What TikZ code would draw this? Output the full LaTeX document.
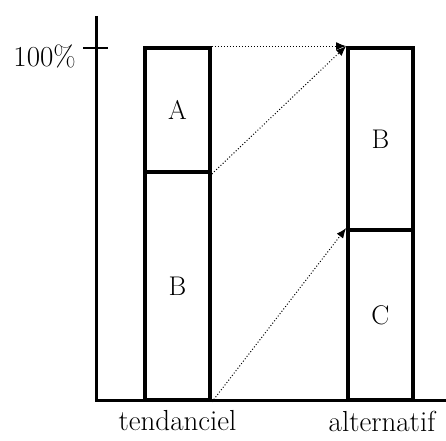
\documentclass[tikz,border=0pt]{standalone}
\usetikzlibrary{arrows.meta}
\begin{document}
\begin{tikzpicture}[x=1pt,y=1pt,
  bar/.style={draw,line width=3.8pt,minimum width=65pt,inner sep=0pt,font=\fontsize{27}{30}\selectfont},
  axis/.style={line width=3pt},
  lab/.style={font=\fontsize{29}{32}\selectfont,inner sep=0pt},
  flow/.style={dotted,line width=1pt,-{Latex[length=10pt,width=8pt]}}]
\useasboundingbox (0,0) rectangle (446,440);
% axes
\coordinate (top) at (96,424);
\coordinate (orig) at (96,40);
\coordinate (xend) at (446,40);
\draw[axis] (top) -- (orig) -- (xend);
\coordinate (t1) at (83,392);
\coordinate (t2) at (108,392);
\draw[line width=1.3pt] (t1) -- (t2);
\node[lab,anchor=east] (pct) at (76,384) {100\%};
% left bar
\node[bar,minimum height=124pt] (A) at (177.5,330) {A};
\node[bar,minimum height=228pt] (B1) at (177.5,154) {B};
% right bar
\node[bar,minimum height=182pt] (B2) at (380.5,301) {B};
\node[bar,minimum height=170pt] (C) at (380.5,125) {C};
% labels
\node[lab] (tend) at (177.5,19) {tendanciel};
\node[lab] (alt) at (382,19) {alternatif};
% flows
\draw[flow] (A.north east) -- (B2.north west);
\draw[flow] (A.south east) -- (B2.north west);
\draw[flow] (B1.south east) -- (C.north west);
\end{tikzpicture}
\end{document}
